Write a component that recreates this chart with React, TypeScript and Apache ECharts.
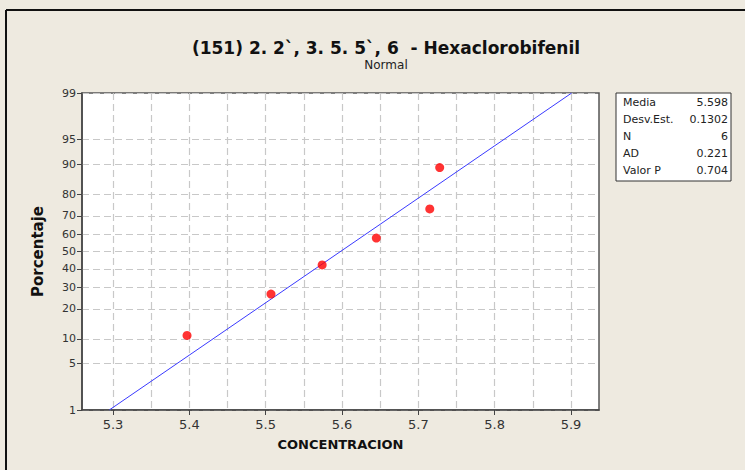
import React, { useEffect, useRef } from "react";
import * as echarts from "echarts";

const titleText = "(151) 2. 2`, 3. 5. 5`, 6  - Hexaclorobifenil";
const subtitleText = "Normal";
const xName = "CONCENTRACION";
const yName = "Porcentaje";

const concentracion = [5.397, 5.507, 5.574, 5.645, 5.715, 5.728];
const porcentaje = [10.9, 26.6, 42.2, 57.8, 73.4, 89.1];

const yTickPercents = [1, 5, 10, 20, 30, 40, 50, 60, 70, 80, 90, 95, 99];
const xLabelValues = [5.3, 5.4, 5.5, 5.6, 5.7, 5.8, 5.9];
const xGridValues = [5.3, 5.35, 5.4, 5.45, 5.5, 5.55, 5.6, 5.65, 5.7, 5.75, 5.8, 5.85, 5.9];

const media = 5.598;
const desvEst = 0.1302;
const statLabels = ["Media", "Desv.Est.", "N", "AD", "Valor P"];
const statValues = ["5.598", "0.1302", "6", "0.221", "0.704"];

// inverse standard normal CDF (Acklam)
function probit(p: number): number {
  const a = [-3.969683028665376e1, 2.209460984245205e2, -2.759285104469687e2, 1.38357751867269e2, -3.066479806614716e1, 2.506628277459239];
  const b = [-5.447609879822406e1, 1.615858368580409e2, -1.556989798598866e2, 6.680131188771972e1, -1.328068155288572e1];
  const c = [-7.784894002430293e-3, -3.223964580411365e-1, -2.400758277161838, -2.549732539343734, 4.374664141464968, 2.938163982698783];
  const d = [7.784695709041462e-3, 3.224671290700398e-1, 2.445134137142996, 3.754408661907416];
  const pl = 0.02425;
  let q: number, r: number;
  if (p < pl) {
    q = Math.sqrt(-2 * Math.log(p));
    return (((((c[0] * q + c[1]) * q + c[2]) * q + c[3]) * q + c[4]) * q + c[5]) / ((((d[0] * q + d[1]) * q + d[2]) * q + d[3]) * q + 1);
  }
  if (p > 1 - pl) {
    q = Math.sqrt(-2 * Math.log(1 - p));
    return -(((((c[0] * q + c[1]) * q + c[2]) * q + c[3]) * q + c[4]) * q + c[5]) / ((((d[0] * q + d[1]) * q + d[2]) * q + d[3]) * q + 1);
  }
  q = p - 0.5;
  r = q * q;
  return ((((((a[0] * r + a[1]) * r + a[2]) * r + a[3]) * r + a[4]) * r + a[5]) * q) / (((((b[0] * r + b[1]) * r + b[2]) * r + b[3]) * r + b[4]) * r + 1);
}

const FONT = "DejaVu Sans";

export default function App() {
  const ref = useRef<HTMLDivElement>(null);
  useEffect(() => {
    document.body.style.margin = "0";
    const chart = echarts.init(ref.current!, null, { renderer: "svg" });
    const yTickZ = yTickPercents.map((p) => probit(p / 100));
    const zMin = probit(0.01);
    const zMax = probit(0.99);
    const pts = concentracion.map((x, i) => [x, probit(porcentaje[i] / 100)]);
    const fit = [
      [media + desvEst * zMin, zMin],
      [media + desvEst * zMax, zMax],
    ];
    const labelFor = (v: number) => {
      let best = 0;
      yTickZ.forEach((z, i) => {
        if (Math.abs(z - v) < Math.abs(yTickZ[best] - v)) best = i;
      });
      return String(yTickPercents[best]);
    };
    const statChildren: any[] = [];
    statLabels.forEach((l, i) => {
      statChildren.push({
        type: "text",
        left: 623,
        top: 97 + i * 17,
        style: { text: l, font: `11px ${FONT}`, fill: "#222" },
      });
      statChildren.push({
        type: "text",
        right: 745 - 728,
        top: 97 + i * 17,
        style: { text: statValues[i], font: `11px ${FONT}`, fill: "#222", align: "right" },
      });
    });

    chart.setOption({
      animation: false,
      backgroundColor: "#EEEAE0",
      title: [
        {
          text: titleText,
          subtext: subtitleText,
          left: 381,
          textAlign: "center",
          top: 34,
          itemGap: 3,
          textStyle: { fontFamily: FONT, fontWeight: "bold", fontSize: 17, color: "#111" },
          subtextStyle: { fontFamily: FONT, fontSize: 12, color: "#222" },
        },
      ],
      grid: {
        left: 82,
        top: 93,
        width: 517,
        height: 317,
        show: true,
        backgroundColor: "#ffffff",
        borderColor: "#555",
        borderWidth: 1.5,
      },
      xAxis: [
        {
          type: "value",
          min: 5.2594,
          max: 5.9367,
          position: "bottom",
          name: xName,
          nameLocation: "middle",
          nameGap: 28,
          nameTextStyle: { fontFamily: FONT, fontWeight: "bold", fontSize: 13, color: "#111" },
          axisLine: { show: true, onZero: false, lineStyle: { color: "#444", width: 1.5 } },
          axisTick: { show: true, length: 5, customValues: xLabelValues, lineStyle: { color: "#444" } },
          axisLabel: {
            customValues: xLabelValues,
            fontFamily: FONT,
            fontSize: 13,
            color: "#333",
            margin: 8,
            formatter: (v: number) => v.toFixed(1),
          },
          splitLine: { show: false },
        },
        {
          type: "value",
          min: 5.2594,
          max: 5.9367,
          position: "top",
          axisLine: { show: false, onZero: false },
          axisTick: { show: false, customValues: xGridValues },
          axisLabel: { show: false, customValues: xGridValues },
          splitLine: { show: true, lineStyle: { color: "#c8c8c8", type: [7, 4], width: 1.2 } },
        },
      ],
      yAxis: {
        type: "value",
        min: zMin,
        max: zMax,
        name: yName,
        nameLocation: "middle",
        nameGap: 37,
        nameTextStyle: { fontFamily: FONT, fontWeight: "bold", fontSize: 15, color: "#111" },
        axisLine: { show: true, onZero: false, lineStyle: { color: "#444", width: 1.5 } },
        axisTick: { show: true, length: 5, customValues: yTickZ, lineStyle: { color: "#444" } },
        axisLabel: {
          customValues: yTickZ,
          fontFamily: FONT,
          fontSize: 11,
          color: "#333",
          margin: 6,
          formatter: labelFor,
        },
        splitLine: { show: true, lineStyle: { color: "#c8c8c8", type: [7, 4], width: 1.2 } },
      },
      series: [
        {
          type: "line",
          data: fit,
          showSymbol: false,
          symbol: "none",
          lineStyle: { color: "#3a3aff", width: 1 },
          silent: true,
          z: 2,
        },
        {
          type: "scatter",
          data: pts,
          symbol: "circle",
          symbolSize: 9,
          itemStyle: { color: "#ff0000" },
          z: 3,
        },
      ],
      graphic: [
        { type: "line", shape: { x1: 6, y1: 10, x2: 745, y2: 10 }, style: { stroke: "#111", lineWidth: 2 } },
        { type: "line", shape: { x1: 6, y1: 10, x2: 6, y2: 470 }, style: { stroke: "#111", lineWidth: 2 } },
        {
          type: "rect",
          shape: { x: 616, y: 93, width: 115, height: 88 },
          style: { fill: "#ffffff", stroke: "#333", lineWidth: 1 },
        },
        ...statChildren,
      ],
    });
    return () => chart.dispose();
  }, []);
  return <div ref={ref} style={{ width: 745, height: 470 }} />;
}
